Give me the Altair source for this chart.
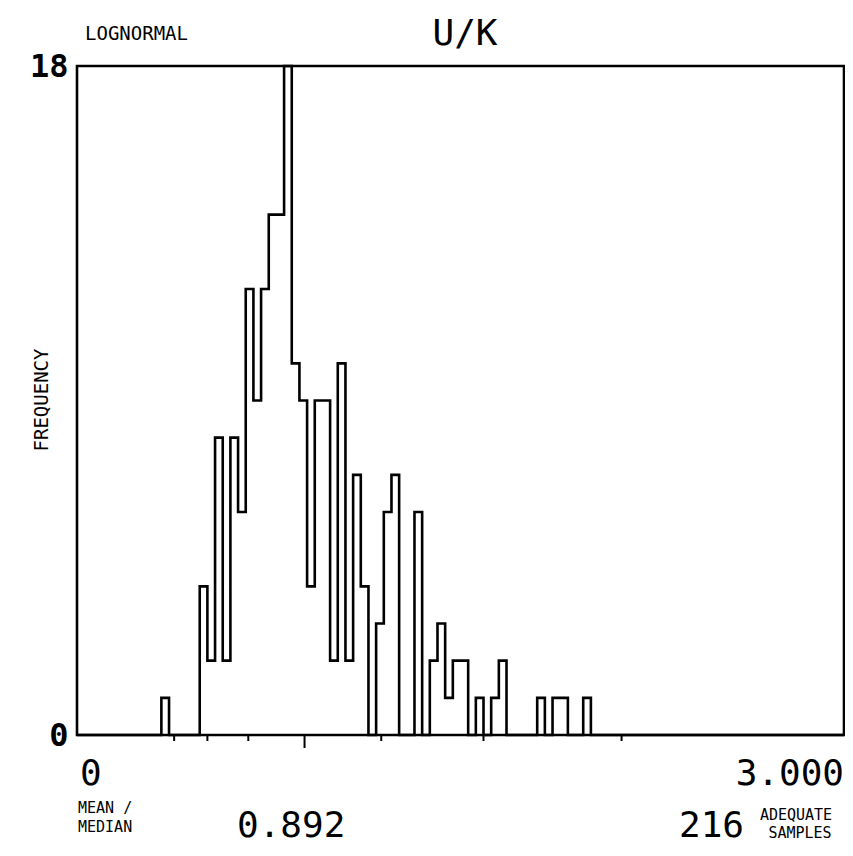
import altair as alt
import pandas as pd

# ---- data ----
BIN_WIDTH = 0.03
FIRST_BIN = 11          # first non-empty bin index (0.33)
COUNTS = [1, 0, 0, 0, 0, 4, 2, 8, 2, 8, 6, 12, 9, 12, 14, 14, 18, 10, 9, 4,
          9, 9, 2, 10, 2, 7, 4, 0, 3, 6, 7, 0, 0, 6, 0, 2, 3, 1, 2, 2,
          0, 1, 0, 1, 2, 0, 0, 0, 0, 1, 0, 1, 1, 0, 0, 1]
X_DOMAIN = [0, 3.0]
Y_DOMAIN = [0, 18]
TICK_VALUES = [0.38, 0.51, 0.67, 0.89, 1.19, 1.59, 2.13]
LONG_TICK = 0.89
X_LABELS = ["0", "3.000"]
TITLE = "U/K"
DIST = "LOGNORMAL"
Y_TITLE = "FREQUENCY"
RATIO_LABEL = ["MEAN /", "MEDIAN"]
RATIO = "0.892"
N_SAMPLES = "216"
N_LABEL = ["ADEQUATE", "SAMPLES"]

W, H = 767, 669
FONT = "DejaVu Sans Mono"

# ---- step outline table ----
xs = [X_DOMAIN[0]]
ys = [0]
for i, c in enumerate(COUNTS):
    xs.append(round((FIRST_BIN + i) * BIN_WIDTH, 4))
    ys.append(c)
xs.append(round((FIRST_BIN + len(COUNTS)) * BIN_WIDTH, 4))
ys.append(0)
xs.append(X_DOMAIN[1])
ys.append(0)
hist = pd.DataFrame({"x": xs, "count": ys})

xscale = alt.Scale(domain=X_DOMAIN, nice=False, zero=False)
yscale = alt.Scale(domain=Y_DOMAIN, nice=False)

line = alt.Chart(hist).mark_line(
    interpolate="step-after", color="black", strokeWidth=2.6, clip=False
).encode(
    x=alt.X("x:Q", scale=xscale, axis=None),
    y=alt.Y("count:Q", scale=yscale,
            axis=alt.Axis(values=Y_DOMAIN, title=None, domain=False, ticks=False,
                          grid=False, labelFont=FONT, labelFontSize=32,
                          labelFontWeight="bold", labelColor="black",
                          labelPadding=9)),
)

ticks_df = pd.DataFrame({"v": TICK_VALUES})
ticks_df["y0"] = H
ticks_df["y1"] = [H + (13 if v == LONG_TICK else 6) for v in TICK_VALUES]
ticks = alt.Chart(ticks_df).mark_rule(color="black", strokeWidth=2).encode(
    x=alt.X("v:Q", scale=xscale, axis=None),
    y=alt.Y("y0:Q", scale=None),
    y2="y1:Q",
)


def label(s, x, y, size, align="left", weight="normal", angle=0, baseline="alphabetic"):
    return alt.Chart(pd.DataFrame({"t": [s]})).mark_text(
        font=FONT, fontSize=size, fontWeight=weight, align=align, angle=angle,
        baseline=baseline, color="black"
    ).encode(x=alt.value(x), y=alt.value(y), text="t:N")


xlab_df = pd.DataFrame({"v": X_DOMAIN, "t": X_LABELS})
xlab0 = alt.Chart(xlab_df.iloc[[0]]).mark_text(
    font=FONT, fontSize=36, align="left", baseline="alphabetic", dx=3, color="black"
).encode(x=alt.X("v:Q", scale=xscale, axis=None), y=alt.value(719), text="t:N")
xlab1 = alt.Chart(xlab_df.iloc[[1]]).mark_text(
    font=FONT, fontSize=36, align="right", baseline="alphabetic", color="black"
).encode(x=alt.X("v:Q", scale=xscale, axis=None), y=alt.value(719), text="t:N")

texts = [
    label(DIST, 8, -26, 19),
    label(TITLE, 388, -21, 36, align="center"),
    label(Y_TITLE, -35, 334, 19, align="center", angle=270, baseline="middle"),
    label(RATIO_LABEL[0], 1, 747, 15),
    label(RATIO_LABEL[1], 1, 766, 15),
    label(RATIO, 160, 771, 36),
    label(N_SAMPLES, 667, 771, 36, align="right"),
    label(N_LABEL[0], 719, 754, 15, align="center"),
    label(N_LABEL[1], 723, 772, 15, align="center"),
]

chart = alt.layer(line, ticks, xlab0, xlab1, *texts).properties(
    width=W, height=H,
    autosize=alt.AutoSizeParams(type="none"),
    padding={"left": 69, "top": 58, "right": 1, "bottom": 113},
    background="white",
).configure_view(stroke="black", strokeWidth=2.6)

chart.save("out.html", embed_options={"renderer": "svg", "actions": False})
